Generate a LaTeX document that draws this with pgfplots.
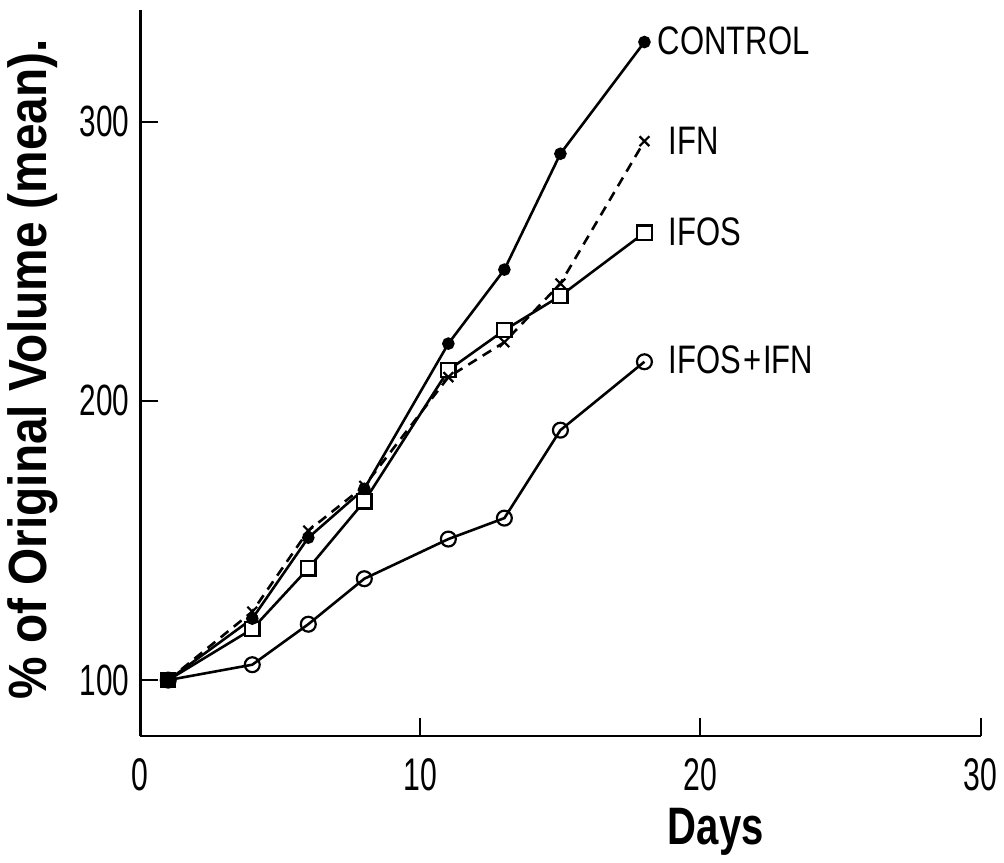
\documentclass[border=0pt]{standalone}
\usepackage{fontspec}
\setmainfont{Liberation Sans}[FakeStretch=0.75]
\newfontfamily\tickfont{Liberation Sans}[FakeStretch=0.68]
\newfontfamily\xtickfont{Liberation Sans}[FakeStretch=0.66]
\newfontfamily\labfont{Liberation Sans}[FakeStretch=0.78]
\newfontfamily\boldfont{Liberation Sans}[FakeStretch=0.76]
\newfontfamily\ylabfont{Liberation Sans}[FakeStretch=0.89]
\usepackage{pgfplots}
\pgfplotsset{compat=1.18}
\begin{document}
\begin{tikzpicture}
\begin{axis}[
  scale only axis, width=422.5pt, height=365pt,
  xmin=0, xmax=30, ymin=80, ymax=340,
  axis x line*=bottom, axis y line*=left,
  axis line style={line width=1.3pt, black},
  xtick={0,10,20,30}, ytick={100,200,300},
  tick align=inside, major tick length=9pt,
  tick style={line width=1pt, black},
  /pgf/number format/assume math mode=true,
  xticklabel style={font=\xtickfont\fontsize{23}{26}\selectfont, yshift=-8pt},
  yticklabel style={font=\tickfont\fontsize{22}{25}\selectfont, xshift=-2pt},
  xlabel={Days},
  xlabel style={font=\boldfont\bfseries\fontsize{26.5}{30}\selectfont, at={(axis description cs:0.685,-0.09)}, anchor=north},
  ylabel={\% of Original Volume (mean).},
  ylabel style={font=\ylabfont\bfseries\fontsize{27}{30}\selectfont, at={(axis description cs:-0.128,0.505)}, anchor=center},
  clip=false,
]
\addplot[black, line width=1.3pt, mark=o, mark size=3.75pt, mark options={fill=white, solid, line width=1.1pt}] coordinates {
 (1,100) (4,105.5) (6,120) (8,136.3) (11,150.5) (13,158) (15,189.5) (18,214)};
\addplot[black, line width=1.3pt, mark=square*, mark size=3.6pt, mark options={fill=white, solid, line width=1.1pt}] coordinates {
 (1,100) (4,118.3) (6,140) (8,164) (11,211) (13,225.3) (15,237.6) (18,260.2)};
\addplot[black, line width=1.3pt, dash pattern=on 5pt off 3.5pt, mark=x, mark size=3.5pt, mark options={solid, line width=1.1pt}] coordinates {
 (1,100) (4,124.5) (6,153.5) (8,169.5) (11,208.5) (13,221) (15,242) (18,293)};
\addplot[black, line width=1.3pt, mark=*, mark size=2.5pt] coordinates {
 (1,100) (4,122) (6,151) (8,168.5) (11,220.5) (13,247) (15,288.5) (18,328.5)};
\addplot[black, only marks, mark=square*, mark size=3.75pt] coordinates {(1,100)};
\node[anchor=west, inner sep=0pt, font=\labfont\fontsize{20}{22}\selectfont, xshift=6.5pt] at (axis cs:18,329) {CONTROL};
\node[anchor=west, inner sep=0pt, font=\labfont\fontsize{20}{22}\selectfont, xshift=12pt] at (axis cs:18,293.3) {IFN};
\node[anchor=west, inner sep=0pt, font=\labfont\fontsize{20}{22}\selectfont, xshift=12pt] at (axis cs:18,260.4) {IFOS};
\node[anchor=west, inner sep=0pt, font=\labfont\fontsize{20}{22}\selectfont, xshift=12pt] at (axis cs:18,214.8) {IFOS\kern1pt+\kern1ptIFN};
\end{axis}
\path (current axis.south west) ++(-70.5pt,-60pt) coordinate (bbA);
\path (current axis.north east) ++(9pt,5pt) coordinate (bbB);
\path (bbA) rectangle (bbB);
\end{tikzpicture}
\end{document}
